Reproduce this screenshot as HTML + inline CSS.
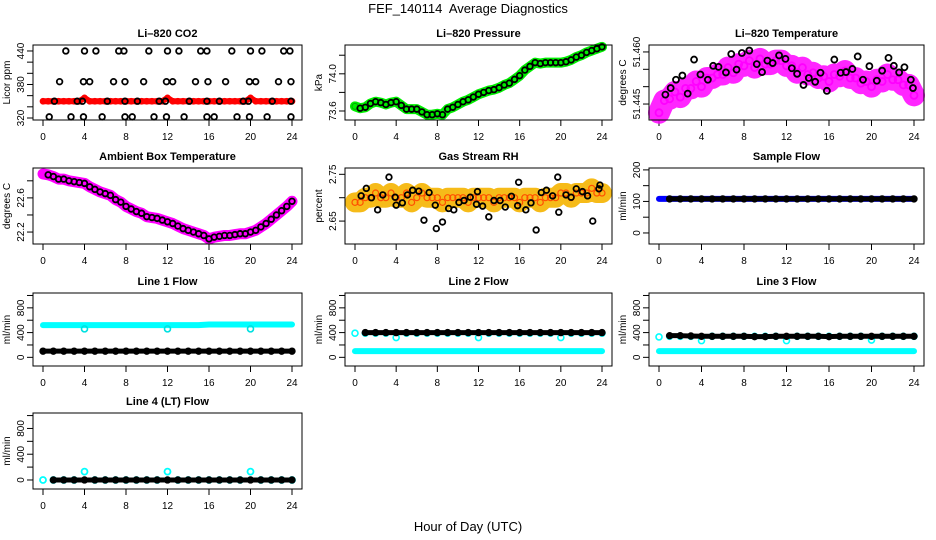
<!DOCTYPE html>
<html><head><meta charset="utf-8"><style>
html,body{margin:0;padding:0;background:#fff;}
svg{display:block;font-family:"Liberation Sans",sans-serif;}
</style></head><body>
<svg id="chart" width="936" height="540" viewBox="0 0 936 540" xmlns="http://www.w3.org/2000/svg">
<text x="468" y="13" font-size="13" text-anchor="middle">FEF_140114&#160; Average Diagnostics</text>
<text x="468" y="531" font-size="13" text-anchor="middle">Hour of Day (UTC)</text>
</svg>
<script>
const H=[0,0.5,1,1.5,2,2.5,3,3.5,4,4.5,5,5.5,6,6.5,7,7.5,8,8.5,9,9.5,10,10.5,11,11.5,12,12.5,13,13.5,14,14.5,15,15.5,16,16.5,17,17.5,18,18.5,19,19.5,20,20.5,21,21.5,22,22.5,23,23.5,24];
const FH=[0,1,2,3,4,5,6,7,8,9,10,11,12,13,14,15,16,17,18,19,20,21,22,23,24];
const xTicks=[0,4,8,12,16,20,24];
// CO2
const co2Red=[350,350,350,350,350,350,350,350,356,350,350,350,350,350,350,350,350,350,350,350,350,350,350,350,356,350,350,350,350,350,350,350,350,350,350,350,350,350,350,350,356,350,350,350,350,350,350,350,350];
const co2BlackH=[2.2,4.0,5.1,7.3,7.8,10.2,12.0,13.1,15.2,15.8,18.2,20.0,21.1,23.2,23.8,1.6,3.9,4.5,6.8,7.9,9.7,11.9,12.5,14.7,15.9,17.6,19.9,20.5,22.7,23.9,1.1,3.3,3.8,6.2,7.9,9.1,11.2,11.8,14.1,15.8,17.0,19.3,19.8,22.1,23.9,0.6,2.7,3.9,5.7,7.9,8.6,10.7,11.9,13.6,15.8,16.5,18.7,19.9,21.6,23.9];
const co2BlackV=[440,440,440,440,440,440,440,440,440,440,440,440,440,440,440,385,385,385,385,385,385,385,385,385,385,385,385,385,385,385,350,350,350,350,350,350,350,350,350,350,350,350,350,350,350,322,322,322,322,322,322,322,322,322,322,322,322,322,322,322];
// Pressure
const pres=[73.65,73.63,73.64,73.68,73.70,73.69,73.67,73.69,73.70,73.66,73.62,73.62,73.62,73.59,73.56,73.56,73.57,73.56,73.62,73.64,73.67,73.70,73.72,73.75,73.78,73.80,73.82,73.83,73.85,73.88,73.90,73.94,73.98,74.04,74.08,74.12,74.11,74.12,74.12,74.12,74.12,74.13,74.15,74.18,74.20,74.23,74.25,74.27,74.29];
// Li-820 temperature
const tempMag=[51.4425,51.4460,51.4465,51.4485,51.4470,51.4495,51.4495,51.4515,51.4500,51.4525,51.4525,51.4535,51.4535,51.4555,51.4540,51.4565,51.4560,51.4575,51.4555,51.4580,51.4565,51.4565,51.4575,51.4575,51.4560,51.4560,51.4540,51.4555,51.4535,51.4540,51.4525,51.4530,51.4515,51.4535,51.4530,51.4545,51.4525,51.4525,51.4510,51.4515,51.4500,51.4520,51.4515,51.4535,51.4520,51.4520,51.4505,51.4505,51.4475];
const tempBlkH=[0.6,1.1,1.6,2.2,2.7,3.3,3.9,4.6,5.1,5.6,6.3,6.8,7.3,7.8,8.5,9.2,9.7,10.2,10.7,11.3,11.9,12.5,13.0,13.6,14.1,14.7,15.2,15.8,16.5,17.1,17.6,18.2,18.7,19.2,19.8,20.5,21.0,21.6,22.1,22.6,23.1,23.7,23.9];
const tempBlkV=[51.4477,51.4496,51.452,51.4532,51.448,51.4578,51.4535,51.452,51.456,51.4557,51.4541,51.4594,51.4549,51.4597,51.4604,51.4565,51.4542,51.4575,51.4568,51.459,51.458,51.4553,51.4537,51.4505,51.4525,51.4514,51.454,51.4488,51.4578,51.454,51.4542,51.4551,51.4587,51.452,51.4559,51.4517,51.4546,51.4583,51.456,51.4541,51.4556,51.452,51.4496];
// Ambient
const amb=[22.88,22.87,22.85,22.82,22.82,22.80,22.79,22.78,22.77,22.73,22.70,22.67,22.65,22.63,22.58,22.55,22.50,22.47,22.44,22.42,22.38,22.37,22.36,22.34,22.32,22.30,22.27,22.24,22.22,22.20,22.18,22.16,22.12,22.14,22.15,22.16,22.16,22.17,22.18,22.18,22.20,22.22,22.26,22.30,22.35,22.40,22.45,22.50,22.56];
// RH
const rhOr=[2.69,2.69,2.70,2.70,2.71,2.70,2.70,2.71,2.70,2.70,2.71,2.69,2.70,2.71,2.70,2.70,2.70,2.69,2.70,2.70,2.70,2.70,2.69,2.70,2.70,2.70,2.70,2.69,2.70,2.70,2.70,2.70,2.69,2.70,2.70,2.70,2.69,2.70,2.70,2.70,2.71,2.71,2.70,2.71,2.71,2.71,2.72,2.71,2.71];
const rhBlkH=[0.6,1.1,1.6,2.2,2.7,3.3,3.9,4.0,4.6,5.1,5.6,6.2,6.7,7.2,7.8,7.9,8.5,9.1,9.6,10.1,10.6,11.2,11.8,11.9,12.4,13.0,13.5,14.1,14.6,15.2,15.8,15.9,16.6,17.1,17.6,18.1,18.6,19.2,19.7,19.8,20.5,21.0,21.5,22.1,22.6,23.1,23.7,23.8];
const rhBlkV=[2.704,2.72,2.70,2.674,2.706,2.744,2.701,2.684,2.689,2.706,2.716,2.714,2.652,2.711,2.684,2.634,2.648,2.677,2.674,2.69,2.694,2.701,2.686,2.713,2.682,2.659,2.694,2.694,2.68,2.703,2.683,2.733,2.674,2.689,2.631,2.711,2.716,2.704,2.744,2.669,2.706,2.701,2.719,2.713,2.704,2.65,2.719,2.727];
// Flows
const sampBlue=[108,108,108,108,108,108,108,108,108,108,108,108,108,108,108,108,108,108,108,108,108,108,108,108,108];
const sampBlk=[108,108,108,108,108,108,108,108,108,108,108,108,108,108,108,108,108,108,108,108,108,108,108,108,108];
const l1Cyan=[520,520,520,520,520,520,520,520,520,520,520,520,520,520,520,520,530,530,530,530,530,530,530,530,530];
const l1DipH=[4,12,20];
const l1DipV=[460,460,460];
const l1Blk=[100,100,100,100,100,100,100,100,100,100,100,100,100,100,100,100,100,100,100,100,100,100,100,100,100];
const l2Cyan=[100,100,100,100,100,100,100,100,100,100,100,100,100,100,100,100,100,100,100,100,100,100,100,100,100];
const l2CyanHi=[390,390,390,390,320,390,390,390,390,390,390,390,320,390,390,390,390,390,390,390,320,390,390,390,390];
const l2Blk=[400,400,400,400,400,400,400,400,400,400,400,400,400,400,400,400,400,400,400,400,400,400,400,400,400];
const l3Cyan=[100,100,100,100,100,100,100,100,100,100,100,100,100,100,100,100,100,100,100,100,100,100,100,100,100];
const l3CyanHi=[330,340,340,340,270,340,340,340,340,340,340,340,270,340,340,340,340,340,340,340,280,340,340,340,340];
const l3Blk=[340,350,350,345,340,340,340,340,340,335,335,340,340,340,340,340,335,340,340,340,340,340,340,340,340];
const l4Cyan=[0,0,0,0,130,0,0,0,0,0,0,0,130,0,0,0,0,0,0,0,130,0,0,0,0];
const l4Blk=[0,0,0,0,0,0,0,0,0,0,0,0,0,0,0,0,0,0,0,0,0,0,0,0,0];
const flowTicks=[0,200,400,600,800,1000];
const flowLabels=[0,400,800];

const NS="http://www.w3.org/2000/svg";
const svg=document.getElementById('chart');
const COLS=[[33,302],[345,612],[649,924]];
const ROWS=[[45,120],[168,244],[293,366],[413,489]];
function mk(tag,attrs,parent){const e=document.createElementNS(NS,tag);for(const k in attrs)e.setAttribute(k,attrs[k]);(parent||svg).appendChild(e);return e;}

function panel(c,r,title,ytitle,yBot,yTop,yTicks,yLabels,fmt,key){
  const L=COLS[c][0],R=COLS[c][1],T=ROWS[r][0],B=ROWS[r][1];
  const g=mk('g',{});
  
  
  const sx=h=>L+10+h*(R-L-20)/24;
  const sy=v=>B-(v-yBot)/(yTop-yBot)*(B-T);
  const t=mk('text',{x:(L+R)/2,y:T-8,'font-size':11,'font-weight':'bold','text-anchor':'middle'},g);
  t.textContent=title;
  
  
  const yt=mk('text',{x:0,y:0,'font-size':10,'text-anchor':'middle',transform:`translate(${L-23},${(T+B)/2}) rotate(-90)`},g);
  yt.textContent=ytitle;
  
  
  const xa=mk('g',{},g);
  
  
  mk('line',{x1:sx(0),x2:sx(24),y1:B,y2:B,stroke:'#000'},xa);
  xTicks.forEach(h=>{
    mk('line',{x1:sx(h),x2:sx(h),y1:B,y2:B+6,stroke:'#000'},xa);
    const lt=mk('text',{x:sx(h),y:B+20,'font-size':10,'text-anchor':'middle'},xa);
    lt.textContent=h;
    
    
  });
  const ya=mk('g',{},g);
  
  
  yTicks.forEach(v=>{mk('line',{x1:L-6,x2:L,y1:sy(v),y2:sy(v),stroke:'#000'},ya);});
  yLabels.forEach(v=>{
    const lt=mk('text',{x:0,y:0,'font-size':10,'text-anchor':'middle',transform:`translate(${L-9},${sy(v)}) rotate(-90)`},ya);
    lt.textContent=fmt(v);
    
    
  });
  const clip=mk('g',{},g);
  
  
  const box=mk('rect',{x:L,y:T,width:R-L,height:B-T,fill:'none',stroke:'#000'},g);
  
  
  return {
    band(xs,ys,color,w,op){
      const p=mk('polyline',{points:xs.map((h,i)=>sx(h)+','+sy(ys[i])).join(' '),fill:'none',stroke:color,'stroke-width':w,'stroke-linejoin':'round','stroke-linecap':'round','opacity':op||1},clip);
      
      
    },
    pts(xs,ys,color,rad,sw){
      xs.forEach((h,i)=>{
        const ci=mk('circle',{cx:sx(h),cy:sy(ys[i]),r:rad,fill:'none',stroke:color,'stroke-width':sw},clip);
        
        
      });
    }
  };
}
const f1=v=>v.toFixed(1), f0=v=>String(v), f2=v=>v.toFixed(2), f3=v=>v.toFixed(3);

let p=panel(0,0,'Li\u2013820 CO2','Licor ppm',316.4,450.7,[320,340,360,380,400,420,440],[320,380,440],f0,'co2');
p.band(H,co2Red,'#ff0000',6);
p.pts(H,co2Red,'#ff0000',2.6,1.5);
p.pts(co2BlackH,co2BlackV,'#000',2.8,1.8);

p=panel(1,0,'Li\u2013820 Pressure','kPa',73.503,74.31,[73.6,73.8,74.0,74.2],[73.6,74.0],f1,'pressure');
p.band(H,pres,'#00ee00',10);
p.pts(H,pres,'#00aa00',3,1);
p.pts(H.slice(1),pres.slice(1),'#000',2.8,1.8);

p=panel(2,0,'Li\u2013820 Temperature','degrees C',51.4404,51.462,[51.445,51.450,51.455,51.460],[51.445,51.460],f3,'temperature');
p.band(H,tempMag,'#ff00ff',22,0.85);
p.pts(H,tempMag,'#ff00ff',3.5,1.8);
p.pts(tempBlkH,tempBlkV,'#000',3,1.8);

p=panel(0,1,'Ambient Box Temperature','degrees C',22.06,22.95,[22.2,22.4,22.6,22.8],[22.2,22.6],f1,'ambient');
p.band(H,amb,'#ff00ff',11);
p.pts(H.slice(1),amb.slice(1),'#000',2.8,1.8);

p=panel(1,1,'Gas Stream RH','percent',2.601,2.7635,[2.65,2.70,2.75],[2.65,2.75],f2,'rh');
p.band(H,rhOr,'#f5b400',20,0.9);
p.pts(H,rhOr,'#ff5000',3,1.2);
p.pts(rhBlkH,rhBlkV,'#000',2.8,1.8);

p=panel(2,1,'Sample Flow','ml/min',-35,206,[0,50,100,150,200],[0,100,200],f0,'sample-flow');
p.band(FH,sampBlue,'#0000ff',6);
p.band(FH.slice(1),sampBlk.slice(1),'#000',5);
p.pts(FH.slice(1),sampBlk.slice(1),'#000',2.8,1.8);

const ft=[-140,1040];
p=panel(0,2,'Line 1 Flow','ml/min',ft[0],ft[1],flowTicks,flowLabels,f0,'line1-flow');
p.band(FH,l1Cyan,'#00ffff',6);
p.pts(l1DipH,l1DipV,'#00e0e0',3,1.6);
p.band(FH,l1Blk,'#000',5);
p.pts(FH,l1Blk,'#000',2.8,1.8);

p=panel(1,2,'Line 2 Flow','ml/min',ft[0],ft[1],flowTicks,flowLabels,f0,'line2-flow');
p.band(FH,l2Cyan,'#00ffff',6);
p.pts(FH,l2CyanHi,'#00ffff',3,1.6);
p.band(FH.slice(1),l2Blk.slice(1),'#000',5);
p.pts(FH.slice(1),l2Blk.slice(1),'#000',2.8,1.8);

p=panel(2,2,'Line 3 Flow','ml/min',ft[0],ft[1],flowTicks,flowLabels,f0,'line3-flow');
p.band(FH,l3Cyan,'#00ffff',6);
p.pts(FH,l3CyanHi,'#00ffff',3,1.6);
p.band(FH.slice(1),l3Blk.slice(1),'#000',5);
p.pts(FH.slice(1),l3Blk.slice(1),'#000',2.8,1.8);

p=panel(0,3,'Line 4 (LT) Flow','ml/min',ft[0],ft[1],flowTicks,flowLabels,f0,'line4-flow');
p.pts(FH,l4Cyan,'#00ffff',3,1.8);
p.band(FH.slice(1),l4Blk.slice(1),'#000',5);
p.pts(FH.slice(1),l4Blk.slice(1),'#000',2.8,1.8);
</script>
</body></html>
